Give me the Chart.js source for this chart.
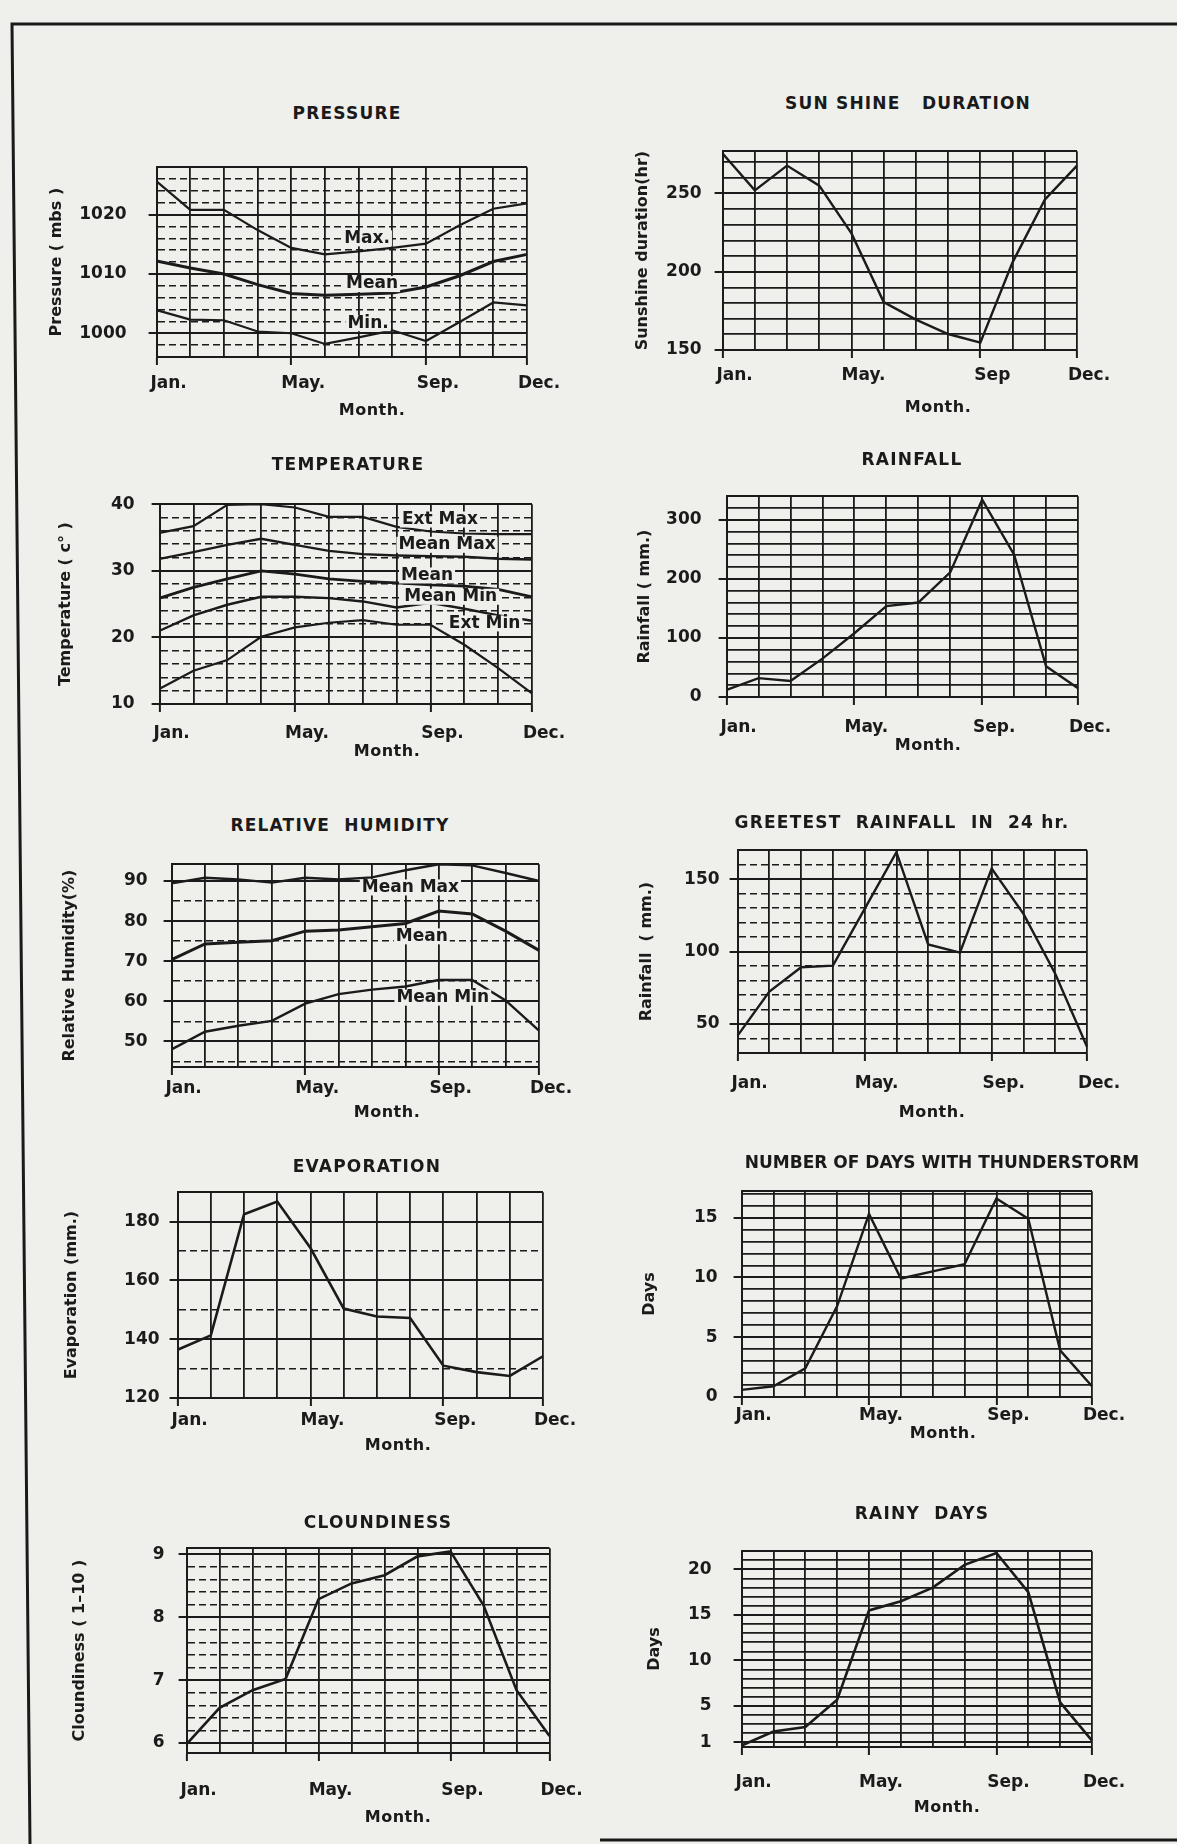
<!DOCTYPE html>
<html><head><meta charset="utf-8">
<script src="https://cdn.jsdelivr.net/npm/chart.js@4.4.1/dist/chart.umd.min.js"></script>
<style>
html,body{margin:0;padding:0;background:#efefec;}
#page{position:relative;width:1177px;height:1844px;overflow:hidden;background:#efefec;font-family:'DejaVu Sans',sans-serif;color:#1a1a1a;}
.t{position:absolute;transform:translate(-50%,-50%);white-space:pre;font-weight:bold;line-height:1;}
canvas{position:absolute;}
</style></head><body>
<div id="page">
<svg width="1177" height="1844" style="position:absolute;left:0;top:0">
<polyline points="1177,24 12,24 30,1844" fill="none" stroke="#1a1a1a" stroke-width="3"/>
<line x1="600" y1="1840" x2="1177" y2="1840" stroke="#1a1a1a" stroke-width="3"/>
</svg>
</div>
<script>
// ---------- data ----------
const months = ['Jan.','Feb.','Mar.','Apr.','May.','Jun.','Jul.','Aug.','Sep.','Oct.','Nov.','Dec.'];
const monthTicks = {0:'Jan.',4:'May.',8:'Sep.',11:'Dec.'};
const monthTicksSun = {0:'Jan.',4:'May.',8:'Sep',11:'Dec.'};

const pressureMax  = [1025.6,1020.8,1020.8,1017.4,1014.4,1013.3,1013.8,1014.4,1015.1,1018.2,1021.0,1021.9];
const pressureMean = [1012.2,1011.0,1010.0,1008.2,1006.7,1006.4,1006.6,1006.8,1007.8,1009.7,1012.1,1013.3];
const pressureMin  = [1003.9,1002.3,1002.2,1000.3,1000.0,998.2,999.3,1000.5,998.7,1001.9,1005.2,1004.7];
const pressureTicks = [1000,1010,1020];

const sunshine = [275.5,252,267.8,255,224.5,180.6,169.4,160.2,154.7,206,246,267.8];
const sunshineTicks = [150,200,250];

const tempExtMax  = [35.7,36.7,39.9,40.0,39.5,38.1,38.1,36.6,35.9,35.6,35.5,35.5];
const tempMeanMax = [31.8,32.8,33.9,34.8,33.9,33.0,32.5,32.3,32.2,32.1,31.8,31.7];
const tempMean    = [25.9,27.5,28.8,30.0,29.5,28.8,28.4,28.2,27.9,27.7,27.2,26.1];
const tempMeanMin = [21.0,23.3,24.9,26.1,26.1,25.9,25.4,24.5,25.2,24.3,23.3,22.5];
const tempExtMin  = [12.3,15.0,16.6,20.1,21.5,22.2,22.6,21.9,21.9,18.9,15.4,11.6];
const tempTicks = [10,20,30,40];

const rainfall = [12,32,27,65,108,154,160,211,334,241,52,15];
const rainfallTicks = [0,100,200,300];

const rhMeanMax = [89.4,90.8,90.4,89.6,90.8,90.4,90.9,92.7,94.2,93.9,92.0,90.0];
const rhMean    = [70.4,74.3,74.7,75.1,77.5,77.8,78.6,79.4,82.5,81.8,77.5,72.7];
const rhMeanMin = [48.0,52.4,53.9,55.1,59.4,61.8,62.9,63.7,65.3,65.3,60.2,52.7];
const rhTicks = [50,60,70,80,90];

const greatestRain = [42,72.4,89.2,90.3,129.5,168.6,104.9,99.3,157.4,126.0,84.7,34.3];
const greatestRainTicks = [50,100,150];

const evaporation = [136.4,141.3,182.5,186.8,171.0,150.4,147.7,147.2,131.0,128.8,127.5,134.2];
const evaporationTicks = [120,140,160,180];

const thunderDays = [0.6,0.9,2.4,7.6,15.3,9.9,10.5,11.1,16.6,14.9,3.9,0.9];
const thunderTicks = [0,5,10,15];

const cloudiness = [5.98,6.56,6.84,7.02,8.29,8.54,8.67,8.97,9.05,8.19,6.84,6.11];
const cloudTicks = [6,7,8,9];

const rainyDays = [0.67,2.2,2.7,5.7,15.5,16.5,18.0,20.5,21.8,17.5,5.4,1.2];
const rainyTicks = [1,5,10,15,20];

// ---------- layout ----------
const INK = '#1b1b1b';
const BG = '#efefec';
Chart.defaults.font.family = "'DejaVu Sans', sans-serif";
Chart.defaults.color = INK;

const panels = [
 {title:'PRESSURE', tp:[347,113], mp:[372,410], plot:{L:157,T:149,R:527,B:357},
  yMin:996, yMax:1028, yStep:2, ticks:pressureTicks, gap:30, yTitle:'Pressure ( mbs )', yTitleX:57, xLab:26,
  dash:[7,4], xt:monthTicks,
  series:[{d:pressureMax,w:2.2},{d:pressureMean,w:3},{d:pressureMin,w:2.2}],
  notes:[{text:'Max.',m:6.25,v:1016},{text:'Mean',m:6.4,v:1008.3},{text:'Min.',m:6.28,v:1001.7}]},
 {title:'SUN SHINE   DURATION', tp:[908,103], mp:[938,407], plot:{L:723,T:142,R:1077,B:350},
  yMin:150, yMax:277, yStep:10, ticks:sunshineTicks, gap:21, yTitle:'Sunshine duration(hr)', yTitleX:643, xLab:25,
  dash:null, xt:monthTicksSun, series:[{d:sunshine,w:2.4}], notes:[]},
 {title:'TEMPERATURE', tp:[348,464], mp:[387,751], plot:{L:160,T:491,R:532,B:704},
  yMin:10, yMax:40, yStep:2, ticks:tempTicks, gap:25, yTitle:'Temperature ( c° )', yTitleX:66, xLab:29,
  dash:[7,4], xt:monthTicks,
  series:[{d:tempExtMax,w:2.2},{d:tempMeanMax,w:2.4},{d:tempMean,w:2.8},{d:tempMeanMin,w:2.4},{d:tempExtMin,w:2.2}],
  notes:[{text:'Ext Max',m:8.28,v:37.7},{text:'Mean Max',m:8.49,v:33.9},{text:'Mean',m:7.9,v:29.3},
         {text:'Mean Min',m:8.6,v:26.1},{text:'Ext Min',m:9.6,v:22.1}]},
 {title:'RAINFALL', tp:[912,459], mp:[928,745], plot:{L:727,T:483,R:1078,B:697},
  yMin:0, yMax:340, yStep:20, ticks:rainfallTicks, gap:25, yTitle:'Rainfall ( mm.)', yTitleX:645, xLab:30,
  dash:null, xt:monthTicks, series:[{d:rainfall,w:2.4}], notes:[]},
 {title:'RELATIVE  HUMIDITY', tp:[340,825], mp:[387,1112], plot:{L:172,T:852,R:539,B:1067},
  yMin:43.6, yMax:94.2, yStep:5, ticks:rhTicks, gap:24, yTitle:'Relative Humidity(%)', yTitleX:70, xLab:21,
  dash:[7,4], xt:{0:'Jan.',4:'May.',8:'Sep.',11:'Dec.'},
  series:[{d:rhMeanMax,w:2.4},{d:rhMean,w:3},{d:rhMeanMin,w:2.4}],
  notes:[{text:'Mean Max',m:7.15,v:88.4},{text:'Mean',m:7.49,v:76.2},{text:'Mean Min',m:8.12,v:60.9}]},
 {title:'GREETEST  RAINFALL  IN  24 hr.', tp:[902,822], mp:[932,1112], plot:{L:738,T:844,R:1087,B:1053},
  yMin:30, yMax:170, yStep:10, ticks:greatestRainTicks, gap:18, yTitle:'Rainfall  ( mm.)', yTitleX:647, xLab:30,
  dash:[7,4], xt:monthTicks, series:[{d:greatestRain,w:2.4}], notes:[]},
 {title:'EVAPORATION', tp:[367,1166], mp:[398,1445], plot:{L:178,T:1186,R:543,B:1398},
  yMin:120, yMax:190, yStep:10, ticks:evaporationTicks, gap:18, yTitle:'Evaporation (mm.)', yTitleX:72, xLab:22,
  dash:[7,4], xt:monthTicks, series:[{d:evaporation,w:2.6}], notes:[]},
 {title:'NUMBER OF DAYS WITH THUNDERSTORM', ls:0, tp:[942,1162], mp:[943,1433], plot:{L:742,T:1179,R:1092,B:1397},
  yMin:0, yMax:17.2, yStep:1, ticks:thunderTicks, gap:24, yTitle:'Days', yTitleX:650, xLab:18,
  dash:null, xt:monthTicks, series:[{d:thunderDays,w:2.4}], notes:[]},
 {title:'CLOUNDINESS', tp:[378,1522], mp:[398,1817], plot:{L:187,T:1538,R:550,B:1753},
  yMin:5.84, yMax:9.1, yStep:0.2, ticks:cloudTicks, gap:22, yTitle:'Cloundiness ( 1–10 )', yTitleX:80, xLab:37,
  dash:[7,4], xt:monthTicks, series:[{d:cloudiness,w:2.6}], notes:[]},
 {title:'RAINY  DAYS', tp:[922,1513], mp:[947,1807], plot:{L:742,T:1533,R:1092,B:1747},
  yMin:0.5, yMax:22, yStep:1, ticks:rainyTicks, gap:30, yTitle:'Days', yTitleX:655, xLab:35,
  dash:null, xt:monthTicks, series:[{d:rainyDays,w:2.6}], notes:[]}
];

const page = document.getElementById('page');
function addText(txt, pos, size, ls) {
  const d = document.createElement('div');
  d.className = 't';
  d.textContent = txt;
  d.style.left = pos[0] + 'px';
  d.style.top = pos[1] + 'px';
  d.style.fontSize = size + 'px';
  d.style.letterSpacing = (ls === undefined ? 1.2 : ls) + 'px';
  page.appendChild(d);
}
function gridValues(min, max, step) {
  const out = [min];
  const k0 = Math.ceil(min / step - 1e-9), k1 = Math.floor(max / step + 1e-9);
  for (let k = k0; k <= k1; k++) {
    const v = Math.round(k * step * 1e6) / 1e6;
    if (Math.abs(v - min) > 1e-6 && Math.abs(v - max) > 1e-6) out.push(v);
  }
  out.push(max);
  return out;
}

panels.forEach((p, idx) => {
  const PT = 14, PR = 40;
  const left = p.yTitleX - 13.6;
  const yw = p.plot.L - left;
  const xh = p.xLab + 24;
  const w = Math.round(p.plot.R - left + PR), h = Math.round(p.plot.B - p.plot.T + PT + xh);
  const c = document.createElement('canvas');
  c.width = w; c.height = h;
  c.style.left = left + 'px'; c.style.top = (p.plot.T - PT) + 'px';
  c.style.width = w + 'px'; c.style.height = h + 'px';
  page.appendChild(c);
  addText(p.title, p.tp, 17, p.ls);
  addText('Month.', p.mp, 16, 0.5);

  const isMajor = v => p.ticks.some(m => Math.abs(m - v) < 1e-6);
  const isBound = v => Math.abs(v - p.yMin) < 1e-6 || Math.abs(v - p.yMax) < 1e-6;
  const notes = p.notes;
  const notePlugin = {
    id: 'notes' + idx,
    afterDatasetsDraw(chart) {
      const {ctx, scales} = chart;
      ctx.save();
      ctx.font = "bold 17px 'DejaVu Sans', sans-serif";
      ctx.textAlign = 'center'; ctx.textBaseline = 'middle';
      notes.forEach(n => {
        const px = scales.x.getPixelForValue(n.m);
        const py = scales.y.getPixelForValue(n.v);
        const tw = ctx.measureText(n.text).width;
        ctx.fillStyle = BG;
        ctx.fillRect(px - tw / 2 - 2, py - 8, tw + 4, 16);
        ctx.fillStyle = INK;
        ctx.fillText(n.text, px, py);
      });
      ctx.restore();
    }
  };

  new Chart(c, {
    type: 'line',
    data: {
      labels: months,
      datasets: p.series.map(s => ({data: s.d, borderColor: INK, borderWidth: s.w, pointRadius: 0, tension: 0, fill: false}))
    },
    options: {
      responsive: false, animation: false, events: [],
      layout: {padding: {top: PT, right: PR, left: 0, bottom: 0}},
      plugins: {legend: {display: false}, tooltip: {enabled: false}},
      scales: {
        x: {
          type: 'category', offset: false,
          grid: {color: INK, lineWidth: 1.8, tickLength: 8, tickWidth: 2,
                 tickColor: ctx => (p.xt[ctx.index] ? INK : 'rgba(0,0,0,0)')},
          border: {display: true, color: INK, width: 2},
          ticks: {autoSkip: false, maxRotation: 0, minRotation: 0, padding: Math.max(0, p.xLab - 17.6), labelOffset: 12,
                  color: INK, font: {size: 17, weight: 'bold'},
                  callback: (v, i) => p.xt[i] || ''},
          afterFit: s => { s.height = xh; }
        },
        y: {
          type: 'linear', min: p.yMin, max: p.yMax,
          afterBuildTicks: s => { s.ticks = gridValues(p.yMin, p.yMax, p.yStep).map(v => ({value: v})); },
          grid: {color: INK,
                 lineWidth: ctx => (ctx.tick && (isMajor(ctx.tick.value) || isBound(ctx.tick.value))) ? 2 : (p.dash ? 1.5 : 1.7),
                 tickLength: 8, tickWidth: 2,
                 tickColor: ctx => (ctx.tick && isMajor(ctx.tick.value)) ? INK : 'rgba(0,0,0,0)'},
          border: {display: true, color: INK, width: 2,
                   dash: ctx => (p.dash && ctx.tick && !isMajor(ctx.tick.value) && !isBound(ctx.tick.value)) ? p.dash : []},
          ticks: {autoSkip: false, padding: p.gap - 8, color: INK, font: {size: 17, weight: 'bold'},
                  callback: v => (isMajor(v) ? String(Math.round(v * 100) / 100) : '')},
          title: {display: true, text: p.yTitle, color: INK, font: {size: 16, weight: 'bold'}, padding: {top: 4, bottom: 4}},
          afterFit: s => { s.width = yw; }
        }
      }
    },
    plugins: [notePlugin]
  });
});
</script>
</body></html>
